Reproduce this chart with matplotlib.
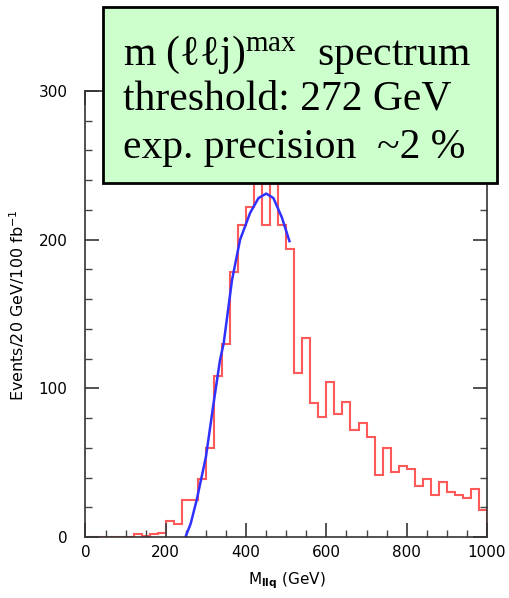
import matplotlib
matplotlib.use("Agg")
import matplotlib.pyplot as plt
import numpy as np
from matplotlib.patches import Rectangle
from matplotlib.ticker import MultipleLocator

# histogramme M_llq, bins de 20 GeV
bin_edges = np.arange(0, 1001, 20)
counts = [0, 0, 0, 0, 0, 0, 2, 1, 2, 3,
          11, 9, 25, 25, 39, 60, 108, 130, 178, 210,
          222, 250, 210, 250, 210, 194, 110, 134, 90, 81,
          104, 83, 91, 72, 77, 67, 42, 60, 44, 48,
          46, 34, 39, 28, 37, 30, 28, 26, 32, 18]

# courbe de fit
fit_x = [249, 262, 277, 300, 319, 335, 344, 365, 385, 410, 431, 450, 468, 489, 508]
fit_y = [0, 9, 25, 54, 90, 119, 130, 173, 200, 218, 228, 231, 228, 215, 199]

box_lines = [r"m (ℓℓj)$\mathregular{^{max}}$  spectrum",
             "threshold: 272 GeV",
             "exp. precision  ~2 %"]

plt.rcParams['font.family'] = ['DejaVu Sans']

fig = plt.figure(figsize=(5.10, 5.98), dpi=100)
ax = fig.add_axes([85.5/510, 1-537/598, (487-85.5)/510, (537-91)/598])

ax.stairs(counts, bin_edges, color='#ff5a5a', lw=1.5, baseline=0)
ax.plot(fit_x, fit_y, color='#3030ff', lw=1.8)

ax.set_xlim(0, 1000)
ax.set_ylim(0, 300)
ax.xaxis.set_major_locator(MultipleLocator(200))
ax.xaxis.set_minor_locator(MultipleLocator(50))
ax.yaxis.set_major_locator(MultipleLocator(100))
ax.yaxis.set_minor_locator(MultipleLocator(20))
ax.tick_params(which='both', direction='in', top=True, right=True, color='#444444')
ax.tick_params(which='major', length=10, width=1.3, labelsize=11)
ax.tick_params(which='minor', length=5, width=1.0)
ax.tick_params(axis='x', which='major', pad=6)
ax.tick_params(axis='y', which='major', pad=13)
for s in ax.spines.values():
    s.set_color('#333333')
    s.set_linewidth(1.2)

ax.set_ylabel(r"Events/20 GeV/100 fb$\mathregular{^{-1}}$", fontsize=11.5)
ax.yaxis.set_label_coords(-0.145, 0.52)
ax.set_xlabel(r"M$_{\mathbf{llq}}$ (GeV)", fontsize=11)
ax.xaxis.set_label_coords(0.502, -0.075)

# encadré vert
box = Rectangle((103/510, 1-183/598), (497-103)/510, (183-7)/598,
                transform=fig.transFigure, facecolor='#ccffcc',
                edgecolor='black', lw=2, zorder=5)
fig.add_artist(box)
for txt, base in zip(box_lines, [65, 109, 158]):
    fig.text(123/510, 1-base/598, txt, family=['Liberation Serif', 'DejaVu Serif'],
             fontsize=30, va='baseline', ha='left', zorder=6)

fig.savefig("out.png", dpi=100)
